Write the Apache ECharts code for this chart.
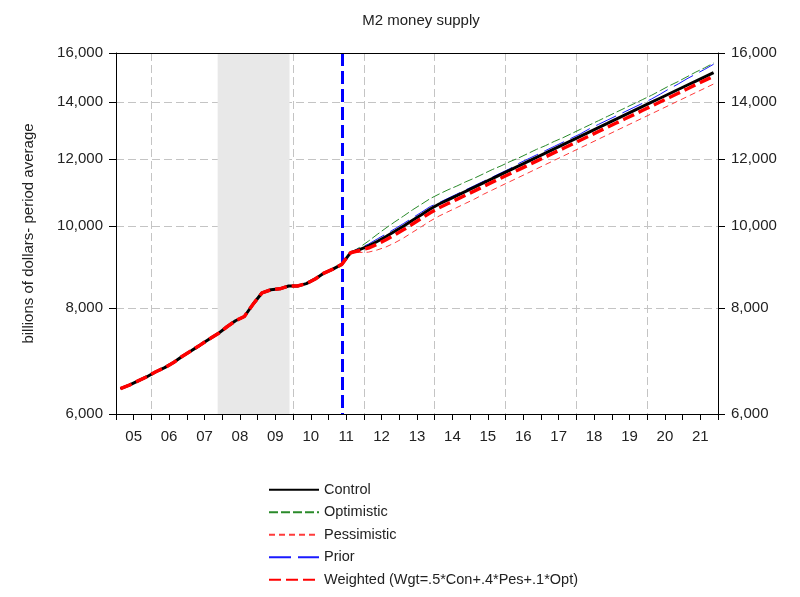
<!DOCTYPE html>
<html><head><meta charset="utf-8">
<script src="https://cdn.jsdelivr.net/npm/echarts@6/dist/echarts.min.js"></script>
<style>html,body{margin:0;padding:0;background:#fff}#c{width:800px;height:597px}</style>
</head><body><div id="c"></div>
<script>
// ---- data (billions of dollars, quarterly averages) ----
const firstYear = 2005;            // series start: 2005Q1
const history = [                  // 2005Q1 .. 2011Q3 (shared by all series)
  6430, 6490, 6565, 6640, 6730, 6805, 6900, 7020, 7125, 7235, 7350, 7460,
  7600, 7730, 7820, 8090, 8340, 8410, 8430, 8495, 8495, 8550, 8660, 8800,
  8895, 9010, 9300
];
// forecasts 2011Q4 .. 2021Q4
const control = [
  9380, 9466, 9588, 9719, 9857, 10002, 10156, 10311, 10472, 10615, 10738, 10862,
  10988, 11115, 11244, 11375, 11507, 11640, 11775, 11911, 12049, 12189, 12330, 12473,
  12618, 12764, 12912, 13062, 13213, 13366, 13521, 13678, 13837, 13997, 14159, 14323,
  14489, 14657, 14827, 14999, 15173
];
const optimistic = [
  9433, 9595, 9772, 9946, 10114, 10277, 10449, 10609, 10774, 10907, 11033, 11146,
  11275, 11390, 11522, 11656, 11775, 11911, 12033, 12172, 12313, 12439, 12583, 12712,
  12860, 13009, 13160, 13312, 13466, 13622, 13780, 13940, 14102, 14265, 14450, 14637,
  14807, 14999, 15194, 15370, 15569
];
const pessimistic = [
  9306, 9313, 9369, 9446, 9554, 9682, 9831, 9981, 10137, 10275, 10394, 10514,
  10636, 10759, 10899, 11026, 11154, 11283, 11413, 11545, 11679, 11815, 11951, 12090,
  12231, 12372, 12515, 12661, 12807, 12956, 13106, 13258, 13412, 13567, 13724, 13883,
  14044, 14207, 14372, 14538, 14707
];
const prior = [
  9420, 9517, 9653, 9785, 9924, 10070, 10225, 10381, 10543, 10658, 10782, 10906,
  11033, 11160, 11290, 11421, 11554, 11687, 11855, 11992, 12131, 12272, 12414, 12558,
  12704, 12851, 13028, 13179, 13332, 13486, 13643, 13801, 13961, 14123, 14313, 14519,
  14707, 14918, 15111, 15307, 15518
];
const weighted = [
  9357, 9418, 9519, 9632, 9762, 9902, 10055, 10209, 10368, 10508, 10630, 10751,
  10876, 11000, 11134, 11264, 11393, 11524, 11656, 11791, 11927, 12064, 12204, 12344,
  12487, 12632, 12778, 12927, 13076, 13228, 13381, 13536, 13694, 13852, 14014, 14178,
  14343, 14511, 14682, 14852, 15026
];
const yTicks = [6000, 8000, 10000, 12000, 14000, 16000];
const yGridLines = [8000, 10000, 12000, 14000];
const yearGridLines = [2006, 2008, 2010, 2012, 2014, 2016, 2018, 2020];
const recessionSpan = [2007.87, 2009.9];
const forecastLine = 2011.375;     // 2011Q2
const xMin = 2005, xMax = 2022;
const yMin = 6000, yMax = 16000;
const names = ['Control', 'Optimistic', 'Pessimistic', 'Prior', 'Weighted (Wgt=.5*Con+.4*Pes+.1*Opt)'];

// ---- build ----
function toPoints(forecast) {
  const vals = history.concat(forecast);
  return vals.map((v, i) => [firstYear + (i + 0.5) / 4, v]);
}
const FONT = "'Liberation Sans', Arial, sans-serif";
const gridLine = { color: '#c4c4c4', width: 1, type: [8, 4] };

const yAxisBase = {
  type: 'log', logBase: 10, min: yMin, max: yMax,
  axisLine: { show: true, lineStyle: { color: '#000', width: 1 } },
  axisTick: { show: true, inside: false, length: 7, customValues: yTicks, lineStyle: { color: '#000' } },
  axisLabel: { customValues: yTicks, fontFamily: FONT, fontSize: 15, color: '#222', margin: 13,
    formatter: v => Math.round(v).toLocaleString('en-US') },
  minorTick: { show: false }, minorSplitLine: { show: false }, splitLine: { show: false }
};

const option = {
  animation: false,
  backgroundColor: '#fff',
  title: { text: 'M2 money supply', left: 416, top: 8, textAlign: 'center',
    textStyle: { fontFamily: FONT, fontSize: 15, fontWeight: 'normal', color: '#222' } },
  grid: { left: 116, right: 82, top: 53, bottom: 183, show: false },
  legend: {
    orient: 'vertical', left: 263, top: 476, itemWidth: 50, itemHeight: 14, itemGap: 5,
    data: names, itemStyle: { opacity: 0 },
    textStyle: { fontFamily: FONT, fontSize: 14.5, color: '#222', lineHeight: 17.5 }
  },
  xAxis: [{
    type: 'value', min: xMin, max: xMax, interval: 0.5,
    axisLine: { show: true, onZero: false, lineStyle: { color: '#000' } },
    axisTick: { show: true, inside: false, length: 6, lineStyle: { color: '#000' } },
    axisLabel: { fontFamily: FONT, fontSize: 15, color: '#222', margin: 15,
      showMinLabel: true, showMaxLabel: true,
      formatter: v => (Math.abs(v % 1 - 0.5) < 1e-6) ? String(Math.floor(v) % 100).padStart(2, '0') : '' },
    splitLine: { show: false }, z: 10
  }, {
    type: 'value', min: xMin, max: xMax, position: 'bottom',
    axisLine: { show: false }, axisLabel: { show: false },
    axisTick: { show: false, customValues: yearGridLines },
    splitLine: { show: true, lineStyle: gridLine }, z: 1
  }, {
    type: 'value', min: xMin, max: xMax, position: 'top',
    axisLine: { show: true, onZero: false, lineStyle: { color: '#000' } },
    axisLabel: { show: false }, axisTick: { show: false }, splitLine: { show: false }, z: 10
  }],
  yAxis: [
    Object.assign({}, yAxisBase, { position: 'left',
      name: 'billions of dollars- period average', nameLocation: 'middle', nameRotate: 90, nameGap: 80,
      nameTextStyle: { fontFamily: FONT, fontSize: 15, color: '#222' }, z: 10 }),
    Object.assign({}, yAxisBase, { position: 'right', z: 10 }),
    { type: 'log', logBase: 10, min: yMin, max: yMax, position: 'left',
      axisLine: { show: false }, axisLabel: { show: false },
      axisTick: { show: false, customValues: yGridLines },
      minorTick: { show: false }, minorSplitLine: { show: false },
      splitLine: { show: true, lineStyle: gridLine }, z: 1 }
  ],
  series: [
    { name: names[1], type: 'line', data: toPoints(optimistic), showSymbol: false, symbol: 'none',
      lineStyle: { color: '#2a8a2a', width: 1, type: [9, 3] }, itemStyle: { color: '#2a8a2a' }, z: 3,
      markArea: { silent: true, itemStyle: { color: '#e8e8e8' },
        data: [[{ xAxis: recessionSpan[0] }, { xAxis: recessionSpan[1] }]] } },
    { name: names[2], type: 'line', data: toPoints(pessimistic), showSymbol: false, symbol: 'none',
      lineStyle: { color: '#ff3b3b', width: 1, type: [6, 4] }, itemStyle: { color: '#ff3b3b' }, z: 3 },
    { name: names[3], type: 'line', data: toPoints(prior), showSymbol: false, symbol: 'none',
      lineStyle: { color: '#1a1aff', width: 1, type: [22, 7] }, itemStyle: { color: '#1a1aff' }, z: 3 },
    { name: names[0], type: 'line', data: toPoints(control), showSymbol: false, symbol: 'none',
      lineStyle: { color: '#000', width: 3 }, itemStyle: { color: '#000' }, z: 4 },
    { name: names[4], type: 'line', data: toPoints(weighted), showSymbol: false, symbol: 'none',
      lineStyle: { color: '#ff0000', width: 3.5, type: [12, 5] }, itemStyle: { color: '#ff0000' }, z: 5,
      markLine: { silent: true, symbol: 'none', label: { show: false },
        lineStyle: { color: '#0000ff', width: 3, type: [13, 5] },
        data: [[{ coord: [forecastLine, yMax] }, { coord: [forecastLine, yMin] }]] } }
  ]
};
const chart = echarts.init(document.getElementById('c'), null, { renderer: 'canvas' });
chart.setOption(option);
</script>
</body></html>
